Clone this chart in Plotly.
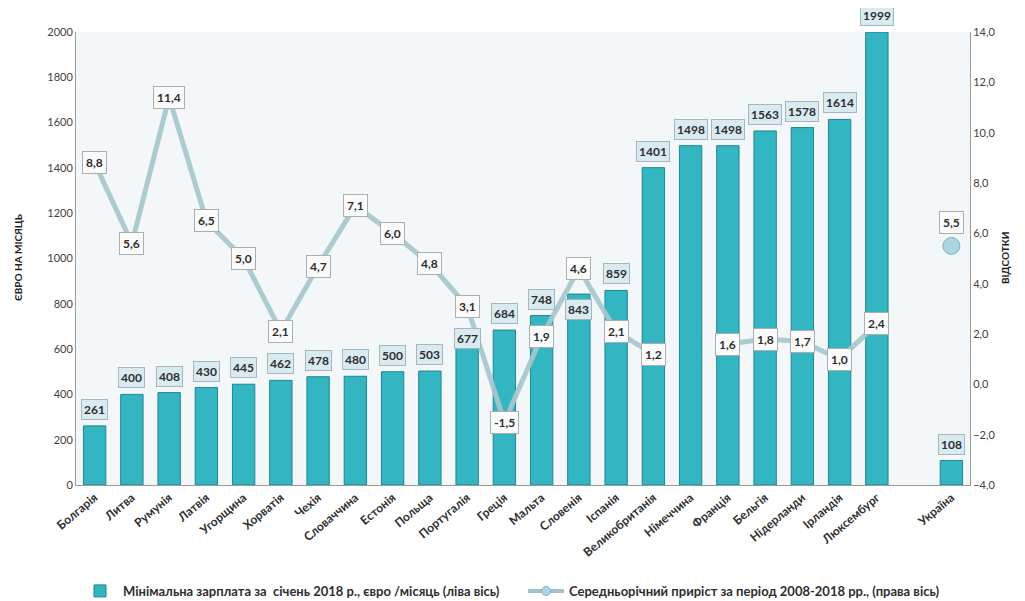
import plotly.graph_objects as go

categories = ["Болгарія", "Литва", "Румунія", "Латвія", "Угорщина", "Хорватія", "Чехія",
              "Словаччина", "Естонія", "Польща", "Португалія", "Греція", "Мальта", "Словенія",
              "Іспанія", "Великобританія", "Німеччина", "Франція", "Бельгія", "Нідерланди",
              "Ірландія", "Люксембург", " ", "Україна"]
wages = [261, 400, 408, 430, 445, 462, 478, 480, 500, 503, 677, 684, 748, 843,
         859, 1401, 1498, 1498, 1563, 1578, 1614, 1999, None, 108]
growth = [8.8, 5.6, 11.4, 6.5, 5.0, 2.1, 4.7, 7.1, 6.0, 4.8, 3.1, -1.5, 1.9, 4.6,
          2.1, 1.2, None, 1.6, 1.8, 1.7, 1.0, 2.4, None, None]
ukraine_growth = 5.5
ukraine_name = "Україна"

bar_name = "Мінімальна зарплата за  січень 2018 р., євро /місяць (ліва вісь)"
line_name = "Середньорічний приріст за період 2008-2018 рр., (права вісь)"
left_title = "ЄВРО НА МІСЯЦЬ"
right_title = "ВІДСОТКИ"

FONT = "Lato"
TXT = "#2e2e2e"
W, H = 1025, 601
ML, MR, MT, MB = 68, 63, 24, 124

fig = go.Figure()
fig.add_trace(go.Bar(
    x=categories, y=wages, name=bar_name, width=0.6,
    marker=dict(color="#34b6c2", line=dict(color="#1d8691", width=1)),
    yaxis="y", hoverinfo="x+y"))
fig.add_trace(go.Scatter(
    x=categories, y=growth, name=line_name, mode="lines", connectgaps=False,
    line=dict(color="rgba(166,199,205,0.92)", width=5), yaxis="y2", showlegend=False))
fig.add_trace(go.Scatter(
    x=[ukraine_name], y=[ukraine_growth], mode="markers", yaxis="y2", showlegend=False,
    marker=dict(size=17, color="#a9d6e2", line=dict(color="#7fb1c0", width=1))))
# legend proxy (no visible data)
fig.add_trace(go.Scatter(
    x=[ukraine_name], y=[None], name=line_name, mode="lines+markers", yaxis="y2",
    line=dict(color="#a0c4ca", width=4),
    marker=dict(size=9, color="#a9d6e2", line=dict(color="#7fb1c0", width=1))))

def fmt(v):
    return f"{v:.1f}".replace(".", ",")

ann = []
for c, w in zip(categories, wages):
    if w is None:
        continue
    if c == "Словенія":
        anchor, shift = "top", -5
    elif c == "Португалія":
        anchor, shift = "top", 4
    else:
        anchor, shift = "bottom", 6
    ann.append(dict(x=c, y=w, xref="x", yref="y", text=f"<b>{w}</b>", showarrow=False,
                    yanchor=anchor, yshift=shift,
                    font=dict(family=FONT, size=12, color=TXT),
                    bgcolor="#d9eaf1", bordercolor="#a6b6bd", borderwidth=1, borderpad=2))
for c, g in zip(categories, growth):
    if g is None:
        continue
    ann.append(dict(x=c, y=g, xref="x", yref="y2", text=f"<b>{fmt(g)}</b>", showarrow=False,
                    font=dict(family=FONT, size=12, color=TXT),
                    bgcolor="#fbfbfb", bordercolor="#a8b0b4", borderwidth=1, borderpad=3))
ann.append(dict(x=ukraine_name, y=ukraine_growth, xref="x", yref="y2",
                text=f"<b>{fmt(ukraine_growth)}</b>", showarrow=False, yanchor="bottom",
                yshift=12, font=dict(family=FONT, size=12, color=TXT),
                bgcolor="#fbfbfb", bordercolor="#a8b0b4", borderwidth=1, borderpad=3))

pw = W - ML - MR
ph = H - MT - MB
ty = (H - MB - 250) / ph
ann.append(dict(x=(10 - ML) / pw, y=ty, xref="paper", yref="paper", text=f"<b>{left_title}</b>",
                textangle=-90, showarrow=False, xanchor="center", yanchor="middle",
                font=dict(family=FONT, size=10, color="#1e1e1e")))
ann.append(dict(x=(997 - ML) / pw, y=ty, xref="paper", yref="paper", text=f"<b>{right_title}</b>",
                textangle=-90, showarrow=False, xanchor="center", yanchor="middle",
                font=dict(family=FONT, size=10, color="#1e1e1e")))

fig.update_layout(
    width=W, height=H, separators=", ",
    margin=dict(l=ML, r=MR, t=MT, b=MB, autoexpand=False),
    paper_bgcolor="white", plot_bgcolor="#f3f7f9",
    font=dict(family=FONT, size=11, color=TXT),
    annotations=ann,
    xaxis=dict(type="category", categoryorder="array", categoryarray=categories,
               range=[-0.5, len(categories) - 0.5],
               tickangle=-40, showgrid=False, ticks="", automargin=False,
               tickfont=dict(family=FONT, size=12, color=TXT, weight="bold"),
               showline=True, linecolor="#9a9a9a", linewidth=1),
    yaxis=dict(range=[0, 2000], dtick=200, tickformat="d", showgrid=False, zeroline=False,
               showline=True, linecolor="#9a9a9a", linewidth=1, ticks="", automargin=False,
               tickfont=dict(family=FONT, size=11, color="#404040")),
    yaxis2=dict(range=[-4, 14], dtick=2, tickformat=".1f", overlaying="y", side="right",
                showgrid=False, zeroline=False, showline=True, linecolor="#9a9a9a", linewidth=1,
                ticks="", automargin=False, tickfont=dict(family=FONT, size=11, color="#404040")),
    legend=dict(orientation="h", x=0.5, xanchor="center", yref="container", y=0.03, yanchor="middle",
                font=dict(family=FONT, size=13, color=TXT, weight="bold"),
                itemwidth=36, entrywidth=395, entrywidthmode="pixels"),
)

fig.write_html("out.html")
